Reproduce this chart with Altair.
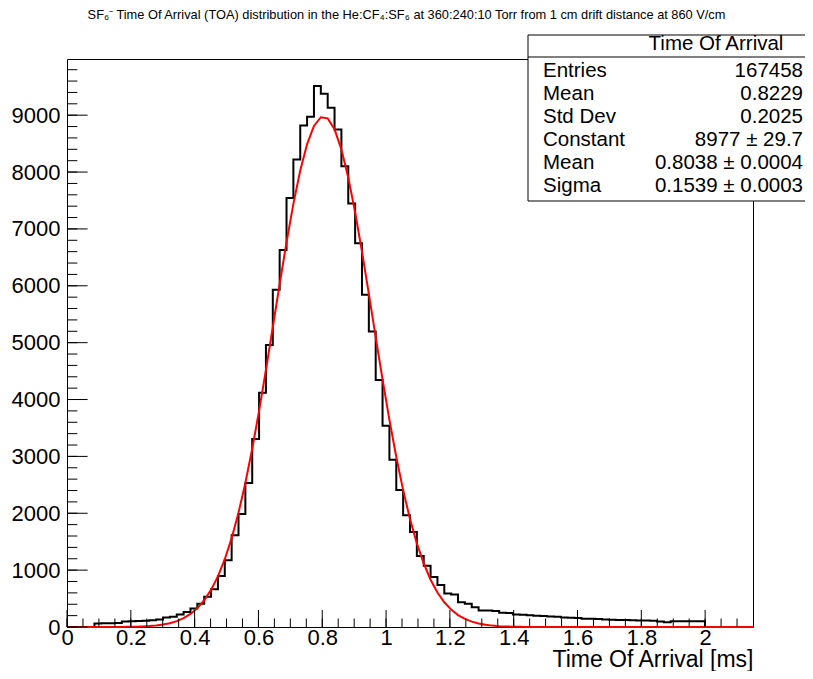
import altair as alt
import pandas as pd
import math

# ---------------- data ----------------
BIN_WIDTH = 0.0215          # 100 bins over 0 .. 2.15 ms
X_MAX = 2.15
Y_MAX = 9988

counts = [
    0, 0, 0, 0,
    60, 65, 68, 70, 95, 100, 105, 108, 120, 130, 165, 180,
    218, 265, 325, 410, 530, 665, 895, 1172, 1612, 1985, 2530, 3304,
    4120, 4960, 5930, 6629, 7545, 8220, 8819, 8972, 9512, 9377, 9131, 8749, 8103, 7445,
    6750, 5841, 5195, 4344, 3540, 2940, 2410, 1965, 1671, 1250, 1075, 880, 740,
    590, 570, 437, 408, 349, 291, 291, 280, 250, 245, 220, 215, 205, 200, 195,
    185, 180, 165, 162, 160, 145, 145, 140, 130, 127, 125, 125, 120, 115, 115,
    110, 95, 85, 100, 100, 100, 100, 100,
    0, 0, 0, 0, 0, 0, 0,
]

# Gaussian fit parameters (from the stats box)
FIT_CONST = 8977
FIT_MEAN = 0.8038
FIT_SIGMA = 0.1539
FIT_NPX = 100

x_major = [0, 0.2, 0.4, 0.6, 0.8, 1.0, 1.2, 1.4, 1.6, 1.8, 2.0]
y_major = [0, 1000, 2000, 3000, 4000, 5000, 6000, 7000, 8000, 9000]
x_minor_step = 0.05
y_minor_step = 200

title_text = ("SF\u2086\u207b Time Of Arrival (TOA) distribution in the He:CF\u2084:SF\u2086 "
              "at 360:240:10 Torr from 1 cm drift distance at 860 V/cm")
stats_title = "Time Of Arrival"
stat_names = ["Entries", "Mean", "Std Dev", "Constant", "Mean", "Sigma"]
stat_values = ["167458", "0.8229", "0.2025", "8977 \u00b1 29.7",
               "0.8038 \u00b1 0.0004", "0.1539 \u00b1 0.0003"]

# ---------------- tables ----------------
edges = [i * BIN_WIDTH for i in range(len(counts) + 1)]
hist_df = pd.DataFrame({"t": edges, "n": counts + [counts[-1]]})

fit_t = [X_MAX * i / FIT_NPX for i in range(FIT_NPX + 1)]
fit_df = pd.DataFrame({
    "t": fit_t,
    "n": [FIT_CONST * math.exp(-0.5 * ((t - FIT_MEAN) / FIT_SIGMA) ** 2) for t in fit_t],
})

x_minor = [round(i * x_minor_step, 4) for i in range(int(X_MAX / x_minor_step) + 1)]
y_minor = [i * y_minor_step for i in range(int(Y_MAX / y_minor_step) + 1)]

# ---------------- layout ----------------
W, H = 686, 568
FONT = "Liberation Sans"
X_TICK, Y_TICK = 17, 20.6

xs = alt.Scale(domain=[0, X_MAX], nice=False, zero=False)
ys = alt.Scale(domain=[0, Y_MAX], nice=False, zero=False)

x_axis = alt.Axis(values=x_major, format=".1~f", title="Time Of Arrival [ms]",
                  titleFont=FONT, titleFontSize=23, titleFontWeight="normal",
                  titleColor="black", titleX=W, titleY=39, titleAlign="right",
                  titleBaseline="alphabetic", titleAngle=0,
                  labelFont=FONT, labelFontSize=22, labelColor="black",
                  labelPadding=0, labelFlush=False, labelOverlap=False,
                  ticks=False, domain=False, grid=False)
y_axis = alt.Axis(values=y_major, format="d", title=None,
                  labelFont=FONT, labelFontSize=22, labelColor="black",
                  labelPadding=7, labelFlush=False, labelOverlap=False,
                  ticks=False, domain=False, grid=False)


def X(field="t"):
    return alt.X(f"{field}:Q", scale=xs, axis=x_axis)


def Y(field="n"):
    return alt.Y(f"{field}:Q", scale=ys, axis=y_axis)


hist = alt.Chart(hist_df).mark_line(
    interpolate="step-after", color="black", strokeWidth=2
).encode(x=X(), y=Y())

fit = alt.Chart(fit_df).mark_line(color="#ff0000", strokeWidth=2).encode(x=X(), y=Y())

xt_major = alt.Chart(pd.DataFrame({"t": x_major})).mark_rule(color="black", strokeWidth=1).encode(
    x=X(), y=alt.value(H), y2=alt.value(H - X_TICK))
xt_minor = alt.Chart(pd.DataFrame({"t": x_minor})).mark_rule(color="black", strokeWidth=1).encode(
    x=X(), y=alt.value(H), y2=alt.value(H - X_TICK / 2))
yt_major = alt.Chart(pd.DataFrame({"n": y_major})).mark_rule(color="black", strokeWidth=1).encode(
    y=Y(), x=alt.value(0), x2=alt.value(Y_TICK))
yt_minor = alt.Chart(pd.DataFrame({"n": y_minor})).mark_rule(color="black", strokeWidth=1).encode(
    y=Y(), x=alt.value(0), x2=alt.value(Y_TICK / 2))

one = pd.DataFrame({"v": [0]})
BOX_L, BOX_R, BOX_T, BOX_B = 461, 750, -24, 142
box = alt.Chart(one).mark_rect(fill="white", stroke="black", strokeWidth=1).encode(
    x=alt.value(BOX_L), x2=alt.value(BOX_R), y=alt.value(BOX_T), y2=alt.value(BOX_B))
sep = alt.Chart(one).mark_rule(color="black", strokeWidth=1).encode(
    x=alt.value(BOX_L), x2=alt.value(BOX_R), y=alt.value(-2))

layers = [hist, fit, xt_major, xt_minor, yt_major, yt_minor, box, sep]

layers.append(alt.Chart(one).mark_text(
    text=stats_title, font=FONT, fontSize=20.5, align="center", baseline="middle", color="black"
).encode(x=alt.value(649), y=alt.value(-15)))

ROW0, ROW_STEP = 12, 23
for i, (nm, val) in enumerate(zip(stat_names, stat_values)):
    yy = ROW0 + i * ROW_STEP
    layers.append(alt.Chart(one).mark_text(
        text=nm, font=FONT, fontSize=20.5, align="left", baseline="middle", color="black"
    ).encode(x=alt.value(476), y=alt.value(yy)))
    layers.append(alt.Chart(one).mark_text(
        text=val, font=FONT, fontSize=20.5, align="right", baseline="middle", color="black"
    ).encode(x=alt.value(736), y=alt.value(yy)))

layers.append(alt.Chart(one).mark_text(
    text=title_text, font=FONT, fontSize=12.8, align="center", baseline="middle", color="black"
).encode(x=alt.value(339.5), y=alt.value(-44.5)))

chart = alt.layer(*layers).properties(
    width=W, height=H,
    autosize=alt.AutoSizeParams(type="none"),
    padding={"left": 59, "top": 51, "right": 52, "bottom": 44},
    background="white",
).configure_view(stroke="black", strokeWidth=1)

chart.save("out.html", embed_options={"renderer": "svg", "actions": False})
